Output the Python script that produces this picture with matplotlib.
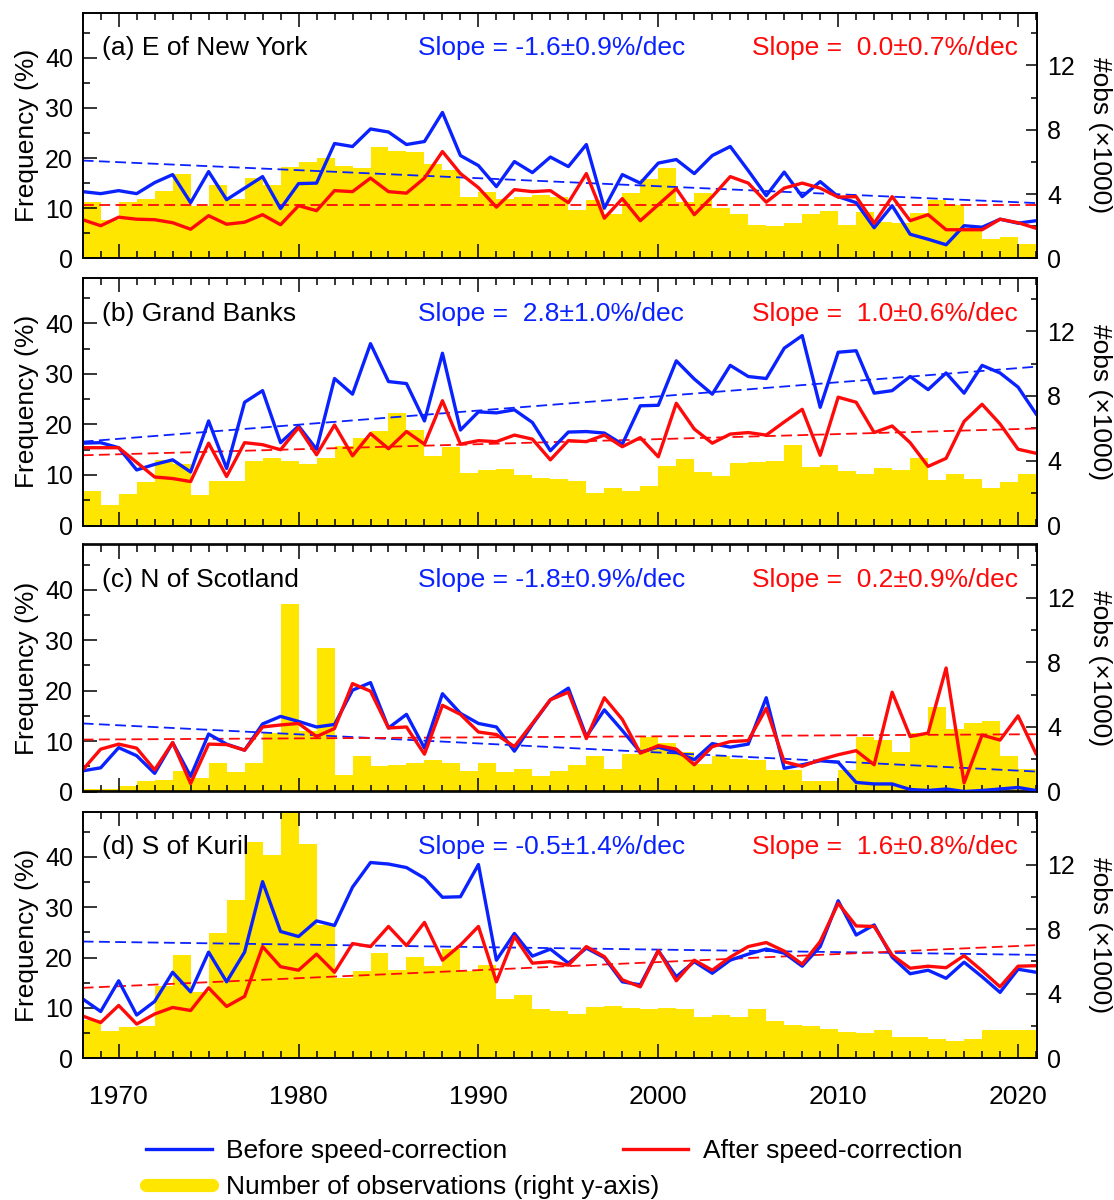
import numpy as np
import matplotlib
matplotlib.use("Agg")
import matplotlib.pyplot as plt
from matplotlib.ticker import MultipleLocator
from matplotlib.lines import Line2D

plt.rcParams['font.family'] = ['Liberation Sans', 'DejaVu Sans']

years = np.arange(1968, 2022)
bar_years = np.arange(1968, 2021)

titles = ["(a) E of New York", "(b) Grand Banks", "(c) N of Scotland", "(d) S of Kuril"]

# frequency (%) before speed-correction
before_a = [13.3, 12.9, 13.5, 12.9, 15.1, 16.7, 11.1, 17.3, 11.7, 14.0,
            16.3, 9.9, 14.9, 15.0, 22.9, 22.3, 25.8, 25.2, 22.7, 23.3,
            29.1, 20.5, 18.5, 14.3, 19.3, 17.1, 20.2, 18.3, 22.7, 10.0,
            16.7, 15.0, 19.0, 19.7, 16.9, 20.5, 22.3, 17.5, 12.5, 17.2,
            12.3, 15.3, 12.3, 11.1, 6.1, 10.5, 4.8, 3.8, 2.7, 6.5,
            6.2, 7.8, 7.0, 7.5]
before_b = [16.3, 16.4, 15.4, 11.0, 12.1, 13.0, 10.6, 20.7, 11.3, 24.4,
            26.7, 16.4, 19.7, 15.1, 29.1, 26.0, 36.0, 28.5, 28.1, 20.7,
            34.1, 18.9, 22.5, 22.3, 22.9, 20.4, 14.8, 18.5, 18.6, 18.3,
            16.1, 23.7, 23.8, 32.6, 29.0, 26.0, 31.7, 29.5, 29.1, 35.1,
            37.6, 23.4, 34.3, 34.6, 26.2, 26.7, 29.5, 26.9, 30.2, 26.2,
            31.7, 30.2, 27.4, 22.1]
before_c = [4.1, 4.7, 8.7, 7.1, 3.6, 9.7, 3.0, 11.4, 9.4, 8.2,
            13.4, 14.9, 13.9, 12.8, 13.3, 20.1, 21.6, 12.6, 15.3, 8.6,
            19.4, 15.5, 13.5, 12.8, 8.0, 13.3, 18.2, 20.5, 10.9, 16.2,
            12.1, 7.8, 8.8, 7.8, 6.3, 9.5, 8.8, 9.4, 18.6, 4.6,
            5.3, 6.1, 5.8, 1.8, 1.5, 1.5, 0.4, 0.2, 0.5, 0.0,
            0.2, 0.5, 0.8, 0.2]
before_d = [11.8, 9.3, 15.4, 8.6, 11.3, 17.1, 13.2, 21.1, 15.2, 21.1,
            35.1, 25.2, 24.2, 27.3, 26.4, 34.0, 38.9, 38.6, 37.9, 35.8,
            32.0, 32.1, 38.5, 19.5, 24.8, 20.3, 21.7, 18.9, 21.9, 20.0,
            15.2, 14.6, 21.4, 16.2, 19.2, 16.9, 19.5, 20.7, 21.7, 20.9,
            18.3, 22.2, 31.3, 24.5, 26.5, 20.1, 16.8, 17.5, 15.9, 19.1,
            16.2, 13.1, 17.7, 17.1]

# frequency (%) after speed-correction
after_a = [7.7, 6.5, 8.2, 7.8, 7.7, 7.1, 5.8, 8.5, 6.8, 7.2,
           8.7, 6.7, 10.5, 9.5, 13.5, 13.3, 16.0, 13.3, 13.0, 16.0,
           21.3, 16.9, 14.1, 10.2, 13.7, 13.3, 13.5, 11.1, 16.9, 8.0,
           11.9, 7.5, 10.7, 13.9, 8.7, 12.3, 16.3, 15.0, 11.2, 14.0,
           15.0, 14.0, 12.2, 12.3, 7.0, 12.3, 7.5, 8.7, 5.7, 5.7,
           5.7, 7.8, 7.1, 6.0]
after_b = [15.4, 15.4, 15.4, 12.5, 9.6, 9.3, 8.7, 16.3, 9.7, 16.4,
           16.0, 15.0, 19.4, 14.0, 19.9, 13.8, 18.2, 15.2, 18.6, 16.1,
           24.7, 16.1, 16.8, 16.6, 17.9, 17.1, 13.0, 16.8, 16.6, 17.9,
           15.6, 17.4, 13.6, 24.2, 19.1, 16.3, 18.1, 18.4, 17.9, 20.5,
           23.0, 13.9, 25.4, 24.4, 18.4, 19.7, 16.4, 11.7, 13.3, 20.6,
           24.0, 20.1, 15.1, 14.3]
after_c = [4.3, 8.4, 9.4, 8.6, 4.3, 9.7, 1.6, 9.4, 9.3, 8.2,
           12.8, 13.2, 13.5, 10.9, 12.5, 21.4, 19.9, 12.6, 12.8, 7.4,
           17.1, 15.3, 11.8, 11.3, 8.9, 13.5, 18.2, 19.7, 10.5, 18.6,
           14.3, 7.6, 9.1, 8.4, 5.3, 8.9, 9.9, 10.1, 16.5, 5.9,
           5.0, 6.3, 7.3, 8.1, 5.3, 19.7, 10.9, 11.6, 24.5, 1.7,
           11.2, 10.2, 15.0, 7.5]
after_d = [8.4, 7.1, 10.5, 6.8, 8.8, 10.1, 9.5, 14.0, 10.3, 12.3,
           22.2, 18.2, 17.5, 20.7, 17.1, 22.8, 22.2, 26.2, 22.4, 27.0,
           19.5, 22.5, 26.2, 15.2, 24.2, 18.9, 19.2, 18.5, 22.2, 20.2,
           15.6, 14.2, 21.4, 15.4, 19.5, 17.5, 20.1, 22.2, 23.0, 21.3,
           18.7, 23.2, 30.8, 26.3, 26.2, 20.5, 17.9, 18.3, 18.0, 20.4,
           17.4, 14.2, 18.3, 18.4]

# number of observations (x1000)
nobs_a = [3.49, 2.39, 3.5, 3.67, 4.2, 5.25, 3.26, 4.56, 3.67, 5.0,
          4.56, 5.7, 5.98, 6.22, 5.77, 5.6, 6.95, 6.7, 6.6, 5.85,
          5.5, 3.84, 4.1, 3.7, 3.84, 3.94, 3.8, 3.0, 3.63, 2.74,
          4.05, 4.94, 5.6, 3.53, 4.05, 3.11, 2.74, 2.07, 2.01, 2.22,
          2.74, 2.95, 2.07, 2.86, 2.28, 2.22, 2.84, 3.63, 3.32, 1.9,
          1.18, 1.35, 0.89]
nobs_b = [2.1, 1.24, 1.97, 2.66, 4.07, 3.8, 1.89, 2.72, 2.72, 4.0,
          4.17, 4.0, 3.82, 4.17, 4.9, 5.39, 5.81, 6.97, 5.87, 4.27,
          4.83, 3.24, 3.45, 3.51, 3.13, 2.93, 2.85, 2.72, 1.99, 2.34,
          2.1, 2.45, 3.65, 4.1, 3.28, 3.07, 3.84, 3.94, 4.0, 4.94,
          3.63, 3.73, 3.38, 3.17, 3.55, 3.44, 4.17, 2.82, 3.17, 2.9,
          2.34, 2.66, 3.17]
nobs_c = [0.17, 0.17, 0.37, 0.62, 0.73, 1.29, 0.83, 1.76, 1.2, 1.76,
          3.59, 11.6, 3.73, 8.86, 1.04, 2.22, 1.56, 1.66, 1.76, 1.93,
          1.76, 1.29, 1.76, 1.2, 1.39, 0.93, 1.27, 1.62, 2.18, 1.41,
          2.34, 3.38, 3.03, 2.45, 1.72, 2.18, 1.99, 1.93, 1.35, 1.35,
          0.68, 0.68, 1.35, 3.38, 3.17, 2.45, 3.63, 5.21, 3.84, 4.21,
          4.38, 2.18, 1.41]
nobs_d = [2.39, 1.70, 1.93, 2.01, 4.46, 6.43, 4.09, 7.74, 9.79, 13.4,
          12.6, 15.25, 13.3, 8.24, 4.98, 5.44, 6.54, 5.5, 6.27, 5.75,
          6.8, 5.44, 5.81, 3.69, 3.94, 3.05, 2.9, 2.76, 3.15, 3.22,
          3.11, 3.05, 3.11, 3.05, 2.59, 2.66, 2.55, 3.05, 2.34, 2.07,
          2.01, 1.83, 1.66, 1.56, 1.76, 1.29, 1.29, 1.18, 1.10, 1.18,
          1.76, 1.76, 1.76]

# linear trends: value in 1968, slope (%/dec) and its error
trend0_before = [19.5, 16.6, 13.5, 23.2]
slope_before = [-1.6, 2.8, -1.8, -0.5]
err_before = [0.9, 1.0, 0.9, 1.4]
trend0_after = [10.6, 13.9, 10.3, 14.0]
slope_after = [0.0, 1.0, 0.2, 1.6]
err_after = [0.7, 0.6, 0.9, 0.8]

before = [before_a, before_b, before_c, before_d]
after = [after_a, after_b, after_c, after_d]
nobs = [nobs_a, nobs_b, nobs_c, nobs_d]

BLUE = '#0a22ff'
RED = '#ff0a0a'
YELLOW = '#ffe600'

fig = plt.figure(figsize=(11.14, 12), dpi=100)
W, H = 1114., 1200.
x0, x1 = 82.7, 1037.3
tops = [12.7, 278.0, 544.5, 811.7]
bots = [258.3, 525.5, 791.5, 1058.3]

for i in range(4):
    ax = fig.add_axes([x0 / W, 1 - bots[i] / H, (x1 - x0) / W, (bots[i] - tops[i]) / H])
    ax2 = ax.twinx()
    ax.set_zorder(ax2.get_zorder() + 1)
    ax.patch.set_visible(False)

    ax2.bar(bar_years, nobs[i], width=1.0, align='edge', color=YELLOW, linewidth=0)
    ax2.set_ylim(0, 15.28)
    ax2.yaxis.set_major_locator(MultipleLocator(4))
    ax2.yaxis.set_minor_locator(MultipleLocator(2))
    ax2.tick_params(axis='y', which='major', direction='in', length=8, width=1.1, labelsize=18, pad=7)
    ax2.tick_params(axis='y', which='minor', direction='in', length=4, width=1.1)
    ax2.set_ylabel("#obs (\u00d71000)", fontsize=19, rotation=270, va='center')
    ax2.yaxis.set_label_coords(1.066, 0.5)

    t = np.array([1968, 2021])
    ax.plot(t, trend0_before[i] + slope_before[i] * (t - 1968) / 10.0, color=BLUE, lw=1.3, dashes=(6, 3))
    ax.plot(t, trend0_after[i] + slope_after[i] * (t - 1968) / 10.0, color=RED, lw=1.3, dashes=(6, 3))
    ax.plot(years, before[i], color=BLUE, lw=2.4)
    ax.plot(years, after[i], color=RED, lw=2.4)

    ax.set_xlim(1968, 2021.07)
    ax.set_ylim(0, 49)
    ax.xaxis.set_major_locator(MultipleLocator(10))
    ax.xaxis.set_minor_locator(MultipleLocator(1))
    ax.yaxis.set_major_locator(MultipleLocator(10))
    ax.yaxis.set_minor_locator(MultipleLocator(5))
    ax.tick_params(which='both', direction='in', top=True, bottom=True, left=True, right=False, width=1.1)
    ax.tick_params(which='major', length=10)
    ax.tick_params(which='minor', length=5)
    ax.tick_params(axis='y', labelsize=18, pad=7)
    ax.tick_params(axis='x', labelsize=19, pad=19, labelbottom=(i == 3))
    ax.set_ylabel("Frequency (%)", fontsize=19)
    ax.yaxis.set_label_coords(-0.046, 0.5)
    for a in (ax, ax2):
        for s in a.spines.values():
            s.set_linewidth(1.2)

    ax.text(0.02, 0.856, titles[i], transform=ax.transAxes, fontsize=19, va='center', ha='left')
    ax.text(0.351, 0.856, f"Slope = {slope_before[i]:4.1f}\u00b1{err_before[i]:.1f}%/dec",
            transform=ax.transAxes, fontsize=19, va='center', ha='left', color=BLUE)
    ax.text(0.701, 0.856, f"Slope = {slope_after[i]:4.1f}\u00b1{err_after[i]:.1f}%/dec",
            transform=ax.transAxes, fontsize=19, va='center', ha='left', color=RED)

h_before = Line2D([], [], color=BLUE, lw=2.4)
h_after = Line2D([], [], color=RED, lw=2.4)
h_obs = Line2D([], [], color=YELLOW, lw=9.5, solid_capstyle='round')

leg_kw = dict(frameon=False, fontsize=19, handlelength=2.5, handletextpad=0.55,
              borderpad=0, borderaxespad=0, loc='center left')
fig.legend([h_before, h_after], ["Before speed-correction", "After speed-correction"],
           ncol=2, columnspacing=4.35, bbox_to_anchor=(146 / W, 1 - 1151 / H), **leg_kw)
fig.legend([h_obs], ["Number of observations (right y-axis)"],
           bbox_to_anchor=(146 / W, 1 - 1187 / H), **leg_kw)

fig.savefig("out.png", dpi=100)
